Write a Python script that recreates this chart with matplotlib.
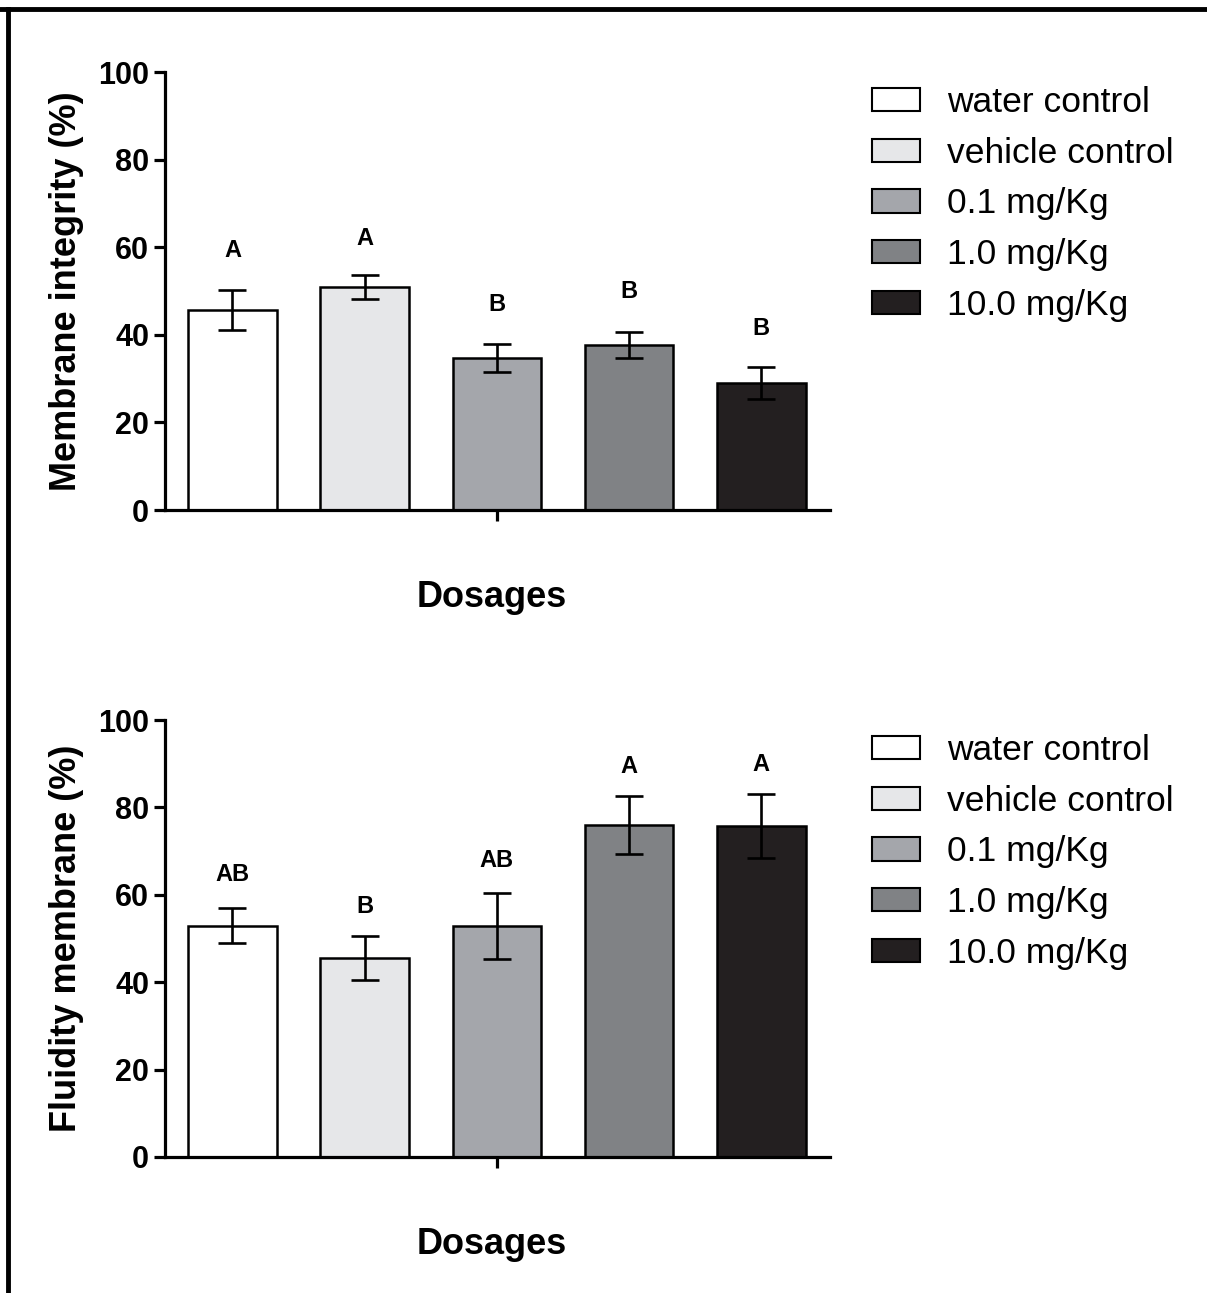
import numpy as np
import matplotlib
matplotlib.use("Agg")
import matplotlib.pyplot as plt
from matplotlib.patches import Patch
from matplotlib.lines import Line2D

plt.rcParams["font.family"] = ["Liberation Sans", "DejaVu Sans"]

groups = ["water control", "vehicle control", "0.1 mg/Kg", "1.0 mg/Kg", "10.0 mg/Kg"]
colors = ["#ffffff", "#e6e7e9", "#a4a6ab", "#808285", "#231f20"]

integrity_mean = [45.7, 50.9, 34.6, 37.7, 29.0]
integrity_err = [4.5, 2.8, 3.2, 2.9, 3.7]
integrity_letters = ["A", "A", "B", "B", "B"]
integrity_letter_y = [59.2, 62.0, 47.0, 50.0, 41.5]

fluidity_mean = [52.9, 45.5, 52.9, 76.0, 75.7]
fluidity_err = [4.0, 5.0, 7.6, 6.6, 7.3]
fluidity_letters = ["AB", "B", "AB", "A", "A"]
fluidity_letter_y = [64.7, 57.3, 67.9, 89.3, 89.8]

W, H = 1207, 1293
fig = plt.figure(figsize=(W / 100, H / 100), dpi=100)

# frame lines of the original figure (top and left only)
fig.add_artist(Line2D([0, 1], [1 - 9 / H, 1 - 9 / H], color="black", lw=3.5))
fig.add_artist(Line2D([8 / W, 8 / W], [0, 1 - 9 / H], color="black", lw=3.5))


def draw_panel(ax, means, errs, letters, letter_y, ylabel):
    x = np.arange(len(groups))
    ax.bar(x, means, width=0.67, color=colors, edgecolor="black", linewidth=1.8, zorder=2)
    ax.errorbar(x, means, yerr=errs, fmt="none", ecolor="black", elinewidth=1.9,
                capsize=10, capthick=1.9, zorder=3)
    for xi, lab, ly in zip(x, letters, letter_y):
        ax.text(xi, ly, lab, ha="center", va="center", fontsize=17, fontweight="bold")
    ax.set_xlim(-0.51, 4.52)
    ax.set_ylim(0, 100)
    ax.set_yticks([0, 20, 40, 60, 80, 100])
    ax.set_xticks([2])
    ax.set_xticklabels([""])
    for s in ["top", "right"]:
        ax.spines[s].set_visible(False)
    for s in ["left", "bottom"]:
        ax.spines[s].set_linewidth(2.3)
    ax.tick_params(axis="both", direction="out", length=8, width=2.3)
    for t in ax.get_yticklabels():
        t.set_fontsize(22)
        t.set_fontweight("bold")
    ax.set_ylabel(ylabel, fontsize=26, fontweight="bold", labelpad=10)
    ax.set_xlabel("Dosages", fontsize=26, fontweight="bold")
    ax.xaxis.set_label_coords(0.492, -0.16)


ax1 = fig.add_axes([165 / W, 1 - 510 / H, 665 / W, 438 / H])
draw_panel(ax1, integrity_mean, integrity_err, integrity_letters, integrity_letter_y,
           "Membrane integrity (%)")
ax2 = fig.add_axes([165 / W, 1 - 1157 / H, 665 / W, 437 / H])
draw_panel(ax2, fluidity_mean, fluidity_err, fluidity_letters, fluidity_letter_y,
           "Fluidity membrane (%)")

handles = [Patch(facecolor=c, edgecolor="black", linewidth=1.5) for c in colors]
for top in [86, 734]:
    fig.legend(handles, groups, loc="upper left", bbox_to_anchor=(872 / W, 1 - top / H),
               frameon=False, fontsize=25.5, handlelength=1.36, handleheight=0.64,
               handletextpad=0.76, labelspacing=0.5, borderpad=0, borderaxespad=0)

fig.savefig("out.png", dpi=100)
